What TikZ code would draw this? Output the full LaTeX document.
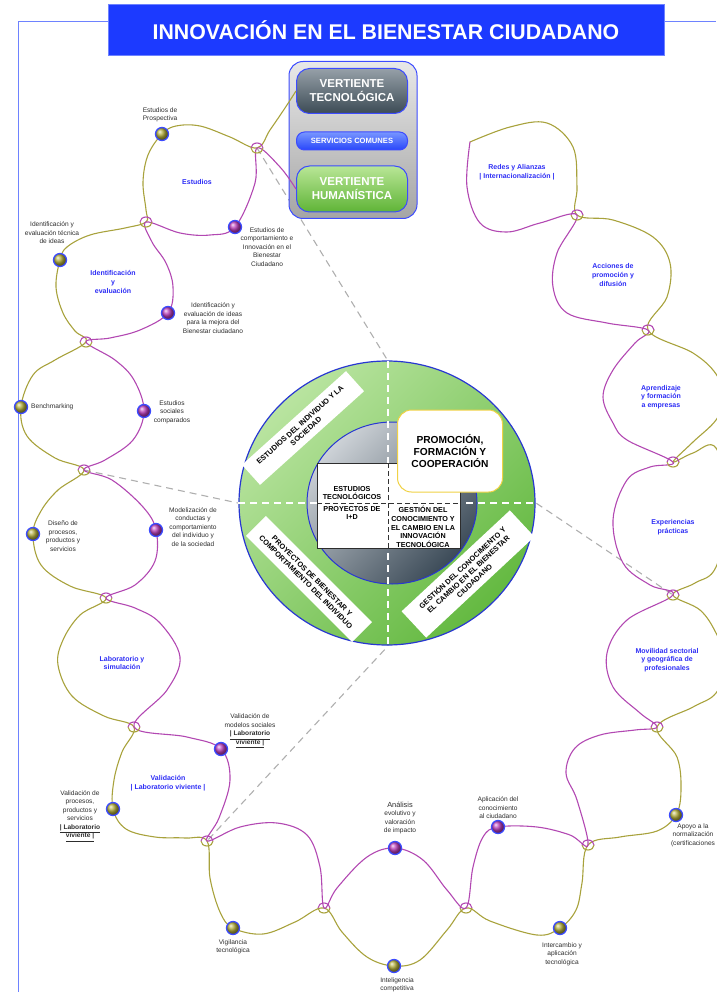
\documentclass[tikz,border=0pt]{standalone}
\usepackage{fontspec}
\setmainfont{Liberation Sans}
\usetikzlibrary{shapes.geometric}

\definecolor{titleblue}{RGB}{28,58,255}
\definecolor{frameblue}{RGB}{110,130,255}
\definecolor{olivec}{RGB}{168,162,60}
\definecolor{purplec}{RGB}{178,72,178}
\definecolor{dotring}{RGB}{60,75,255}
\definecolor{olivedot}{RGB}{175,170,55}
\definecolor{purpledot}{RGB}{185,60,185}
\definecolor{lobeblue}{RGB}{45,45,245}
\definecolor{txtgray}{RGB}{45,45,45}
\definecolor{dashgray}{RGB}{175,175,175}
\definecolor{greenlight}{RGB}{185,228,160}
\definecolor{greendark}{RGB}{100,185,65}
\definecolor{slatelight}{RGB}{205,210,215}
\definecolor{slatedark}{RGB}{60,75,88}
\definecolor{ringblue}{RGB}{40,55,210}
\definecolor{promoyellow}{RGB}{240,210,70}
\definecolor{panelgray}{RGB}{165,165,165}
\definecolor{panellight}{RGB}{232,232,232}
\definecolor{pillblue}{RGB}{40,70,250}
\definecolor{pillbluelight}{RGB}{120,150,255}
\definecolor{pillgreen}{RGB}{95,180,55}
\definecolor{pillgreenlight}{RGB}{185,230,150}
\definecolor{pilldark}{RGB}{60,75,85}
\definecolor{pilldarklight}{RGB}{150,160,168}

\begin{document}
\begin{tikzpicture}[x=1pt,y=-1pt,
  strand/.style={line width=1.1pt, line cap=round},
  ostrand/.style={strand, draw=olivec},
  pstrand/.style={strand, draw=purplec},
  odot/.style={circle, minimum size=13pt, inner sep=0pt, ball color=olivedot, draw=dotring, line width=1.3pt},
  pdot/.style={circle, minimum size=13pt, inner sep=0pt, ball color=purpledot, draw=dotring, line width=1.3pt},
  lbl/.style={align=center, text=txtgray, font=\fontsize{6.6}{8.5}\selectfont, inner sep=0pt},
  lobe/.style={align=center, text=lobeblue, font=\bfseries\fontsize{7}{8.6}\selectfont, inner sep=0pt},
  guide/.style={dashgray, line width=1.1pt, dash pattern=on 7pt off 5pt},
  guidew/.style={white, line width=1.1pt, dash pattern=on 7pt off 5pt},
  guided/.style={black!80, line width=0.9pt, dash pattern=on 5pt off 3pt},
  band/.style={fill=white, inner sep=3pt, align=center, font=\bfseries\fontsize{7.4}{8.8}\selectfont},
  pill/.style={rounded corners=13pt, draw=dotring, line width=1pt, text=white, align=center},
  xloop/.pic={
    \draw[olivec, line width=1.1pt] (-6,0) arc[start angle=180, end angle=0, x radius=6, y radius=5];
    \draw[purplec, line width=1.1pt] (6,0) arc[start angle=0, end angle=-180, x radius=6, y radius=5];
  }
]
\useasboundingbox (0,0) rectangle (716,992);

% ---------- title and frame ----------
\node[fill=titleblue, draw=frameblue, line width=0.6pt, minimum width=556pt, minimum height=51pt, inner sep=0pt,
      text=white, font=\bfseries\fontsize{21.3}{24}\selectfont] (title) at (386,30) {INNOVACIÓN EN EL BIENESTAR CIUDADANO};
\coordinate (fbot) at (18,992);
\coordinate (fcorner) at (18,22);
\coordinate (ftl) at (108,22);
\coordinate (ftr) at (664,22);
\coordinate (fright) at (716,22);
\draw[frameblue, line width=1pt] (fbot) -- (fcorner) -- (ftl);
\draw[frameblue, line width=1pt] (ftr) -- (fright);

% ---------- coordinates ----------
\coordinate (c1) at (257,148);
\coordinate (c2) at (146,222);
\coordinate (c3) at (86,342);
\coordinate (c4) at (84,470);
\coordinate (c5) at (106,598);
\coordinate (c6) at (134,727);
\coordinate (c7) at (207,841);
\coordinate (c8) at (324,908);
\coordinate (c9) at (466,908);
\coordinate (c10) at (588,845);
\coordinate (c11) at (657,727);
\coordinate (c12) at (673,595);
\coordinate (c13) at (673,462);
\coordinate (c14) at (648,330);
\coordinate (c15) at (577,215);
\coordinate (cend) at (470,142);

\coordinate (po1) at (162,134);
\coordinate (po2) at (60,260);
\coordinate (po3) at (21,407);
\coordinate (po4) at (33,534);
\coordinate (po5) at (113,809);
\coordinate (po6) at (233,928);
\coordinate (po7) at (394,966);
\coordinate (po8) at (560,928);
\coordinate (po9) at (676,815);
\coordinate (pp1) at (235,227);
\coordinate (pp2) at (168,313);
\coordinate (pp3) at (144,411);
\coordinate (pp4) at (156,530);
\coordinate (pp5) at (221,749);
\coordinate (pp6) at (395,848);
\coordinate (pp7) at (498,827);

\coordinate (gtop) at (388,361);
\coordinate (gbot) at (388,646);
\coordinate (gleft) at (238,503);
\coordinate (gright) at (536,503);

% ---------- dashed guide lines ----------
\draw[guide] (c1) -- (gtop) -- (gbot) -- (c7);
\draw[guide] (c4) -- (gleft) -- (gright) -- (c12);

% ---------- panel ----------
\node[rounded corners=14pt, draw=dotring, line width=1pt, top color=panellight, bottom color=panelgray,
      minimum width=128pt, minimum height=157pt] (panel) at (353,140) {};
\node[pill, top color=pilldarklight, bottom color=pilldark, minimum width=111pt, minimum height=45pt,
      font=\bfseries\fontsize{11.5}{14}\selectfont] (tec) at (352,91) {VERTIENTE\\TECNOLÓGICA};
\node[pill, rounded corners=8pt, top color=pillbluelight, bottom color=pillblue, minimum width=111pt, minimum height=18pt,
      font=\bfseries\fontsize{7.6}{8}\selectfont] (serv) at (352,141) {SERVICIOS COMUNES};
\node[pill, top color=pillgreenlight, bottom color=pillgreen, minimum width=111pt, minimum height=46pt,
      font=\bfseries\fontsize{11.5}{14}\selectfont] (hum) at (352,189) {VERTIENTE\\HUMANÍSTICA};

% ---------- strands ----------
\draw[ostrand] plot[smooth, tension=0.6] coordinates {
  (tec.west) (285,108) (270,130) (c1) (230,137) (200,126) (176,126) (po1) (148,155) (143,182) (146,210) (c2)
  (125,228) (90,235) (67,247) (po2) (56,287) (63,313) (75,331) (c3)
  (55,360) (33,375) (po3) (27,436) (55,458) (c4)
  (58,490) (41,511) (po4) (41,565) (70,586) (c5)
  (80,615) (63,640) (58,665) (72,696) (104,716) (c6)
  (122,752) (114,780) (po5) (126,829) (155,837) (185,838) (c7)
  (210,878) (220,912) (po6) (263,934) (295,922) (c8)
  (342,932) (367,957) (po7) (420,960) (447,930) (c9)
  (490,921) (537,935) (po8) (576,910) (582,883) (c10)
  (620,837) (657,831) (po9) (681,790) (677,757) (c11)
  (693,707) (716,693) (727,663) (716,633) (700,610) (c12)
  (695,583) (716,567) (729,507) (716,448) (693,453) (c13)
  (693,442) (716,420) (724,398) (716,374) (693,353) (c14)
  (667,297) (670,263) (653,237) (613,220) (c15)
  (577,187) (573,147) (547,123) (510,127) (cend)
};
\draw[pstrand] plot[smooth, tension=0.6] coordinates {
  (hum.west) (280,167) (c1) (255,183) (pp1) (210,235) (180,233) (c2)
  (152,242) (166,263) (173,287) (pp2) (140,330) (110,338) (c3)
  (115,360) (134,380) (pp3) (133,440) (105,460) (c4)
  (112,480) (143,507) (pp4) (155,561) (135,585) (c5)
  (135,608) (160,623) (180,657) (167,690) (c6)
  (187,737) (pp5) (230,780) (219,818) (c7)
  (240,827) (277,823) (307,835) (320,867) (c8)
  (337,888) (367,857) (pp6) (423,860) (447,890) (c9)
  (473,867) (483,837) (pp7) (537,827) (570,835) (c10)
  (577,800) (566,773) (575,748) (600,735) (635,730) (c11)
  (640,713) (613,687) (607,653) (627,620) (c12)
  (650,585) (623,563) (613,520) (627,480) (650,467) (c13)
  (627,440) (613,423) (603,397) (613,370) (635,343) (c14)
  (607,323) (567,313) (553,287) (557,253) (c15)
  (540,223) (507,232) (480,223) (467,187) (cend)
};

% crossing loops
\foreach \c in {c1,c2,c3,c4,c5,c6,c7,c8,c9,c10,c11,c12,c13,c14,c15}
  \pic at (\c) {xloop};

% ---------- dots ----------
\node[odot] (do1) at (po1) {};
\node[odot] (do2) at (po2) {};
\node[odot] (do3) at (po3) {};
\node[odot] (do4) at (po4) {};
\node[odot] (do5) at (po5) {};
\node[odot] (do6) at (po6) {};
\node[odot] (do7) at (po7) {};
\node[odot] (do8) at (po8) {};
\node[odot] (do9) at (po9) {};
\node[pdot] (dp1) at (pp1) {};
\node[pdot] (dp2) at (pp2) {};
\node[pdot] (dp3) at (pp3) {};
\node[pdot] (dp4) at (pp4) {};
\node[pdot] (dp5) at (pp5) {};
\node[pdot] (dp6) at (pp6) {};
\node[pdot] (dp7) at (pp7) {};

% ---------- dot labels ----------
\node[lbl] (l1) at (160,115) {Estudios de\\Prospectiva};
\node[lbl] (l2) at (52,233) {Identificación y\\evaluación técnica\\de ideas};
\node[lbl, anchor=west] (l3) at (31,407) {Benchmarking};
\node[lbl] (l4) at (63,536) {Diseño de\\procesos,\\productos y\\servicios};
\node[lbl] (l5) at (80,816) {Validación de\\procesos,\\productos y\\servicios\\\textbf{\underline{| Laboratorio}}\\\textbf{\underline{viviente |}}};
\node[lbl] (l6) at (233,947) {Vigilancia\\tecnológica};
\node[lbl] (l7) at (397,985) {Inteligencia\\competitiva};
\node[lbl] (l8) at (562,954) {Intercambio y\\aplicación\\tecnológica};
\node[lbl] (l9) at (693,835) {Apoyo a la\\normalización\\(certificaciones};
\node[lbl] (m1) at (267,247) {Estudios de\\comportamiento e\\Innovación en el\\Bienestar\\Ciudadano};
\node[lbl] (m2) at (213,318) {Identificación y\\evaluación de ideas\\para la mejora del\\Bienestar ciudadano};
\node[lbl] (m3) at (172,412) {Estudios\\sociales\\comparados};
\node[lbl] (m4) at (193,527) {Modelización de\\conductas y\\comportamiento\\del individuo y\\de la sociedad};
\node[lbl] (m5) at (250,731) {Validación de\\modelos sociales\\\textbf{\underline{| Laboratorio}}\\\textbf{\underline{viviente |}}};
\node[lbl] (m6) at (400,818) {{\fontsize{7.4}{8.5}\selectfont Análisis}\\evolutivo y\\valoración\\de impacto};
\node[lbl] (m7) at (498,808) {Aplicación del\\conocimiento\\al ciudadano};

% ---------- lobe labels ----------
\node[lobe] (b1) at (197,182) {Estudios};
\node[lobe] (b2) at (113,282) {Identificación\\y\\evaluación};
\node[lobe] (b3) at (122,663) {Laboratorio y\\simulación};
\node[lobe] (b4) at (168,783) {Validación\\| Laboratorio viviente |};
\node[lobe] (b5) at (517,172) {Redes y Alianzas\\| Internacionalización |};
\node[lobe] (b6) at (613,275) {Acciones de\\promoción y\\difusión};
\node[lobe] (b7) at (661,397) {Aprendizaje\\y formación\\a empresas};
\node[lobe] (b8) at (673,527) {Experiencias\\prácticas};
\node[lobe] (b9) at (667,660) {Movilidad sectorial\\y geográfica de\\profesionales};

% ---------- central circle ----------
\node[ellipse, draw=ringblue, line width=1.2pt, minimum width=296pt, minimum height=284pt, inner sep=0pt,
      left color=greenlight, right color=greendark, shading angle=45] (outer) at (387,503) {};
\node[ellipse, draw=ringblue, line width=1pt, minimum width=170pt, minimum height=162pt, inner sep=0pt,
      top color=slatelight, bottom color=slatedark, shading angle=45] (inner) at (392,503) {};

\draw[guidew] (gtop) -- (gbot);
\draw[guidew] (gleft) -- (gright);

% rotated bands
\node[band, rotate=42, minimum width=140pt, minimum height=27pt] (bandA) at (303,428)
  {ESTUDIOS DEL INDIVIDUO Y LA\\SOCIEDAD};
\node[band, rotate=-45, minimum width=150pt, minimum height=28pt] (bandB) at (309,579)
  {PROYECTOS DE BIENESTAR Y\\COMPORTAMIENTO DEL INDIVIDUO};
\node[band, rotate=43, minimum width=148pt, minimum height=36pt] (bandC) at (468,574)
  {GESTIÓN DEL CONOCIMENTO Y\\EL CAMBIO EN EL BIENESTAR\\CIUDADANO};

% central square
\node[fill=white, draw=txtgray, line width=0.4pt, minimum width=143pt, minimum height=85pt, inner sep=0pt] (sq) at (388.5,505.5) {};
\coordinate (sqt) at (388,463);
\coordinate (sqb) at (388,548);
\coordinate (sql) at (317,503);
\coordinate (sqr) at (460,503);
\draw[guided] (sqt) -- (sqb);
\draw[guided] (sql) -- (sqr);
\node[align=center, font=\bfseries\fontsize{7.2}{8.6}\selectfont, inner sep=0pt] (t1) at (352,493) {ESTUDIOS\\TECNOLÓGICOS};
\node[align=center, font=\bfseries\fontsize{7.2}{8.6}\selectfont, inner sep=0pt] (t2) at (352,513) {PROYECTOS DE\\I+D};
\node[align=center, font=\bfseries\fontsize{7.2}{8.6}\selectfont, inner sep=0pt] (t3) at (423,527) {GESTIÓN DEL\\CONOCIMIENTO Y\\EL CAMBIO EN LA\\INNOVACIÓN\\TECNOLÓGICA};

% promotion box
\node[fill=white, draw=promoyellow, line width=1pt, rounded corners=14pt, minimum width=105pt, minimum height=82pt,
      align=center, font=\bfseries\fontsize{10.2}{12}\selectfont] (promo) at (450,451) {PROMOCIÓN,\\FORMACIÓN Y\\COOPERACIÓN};

\end{tikzpicture}
\end{document}
